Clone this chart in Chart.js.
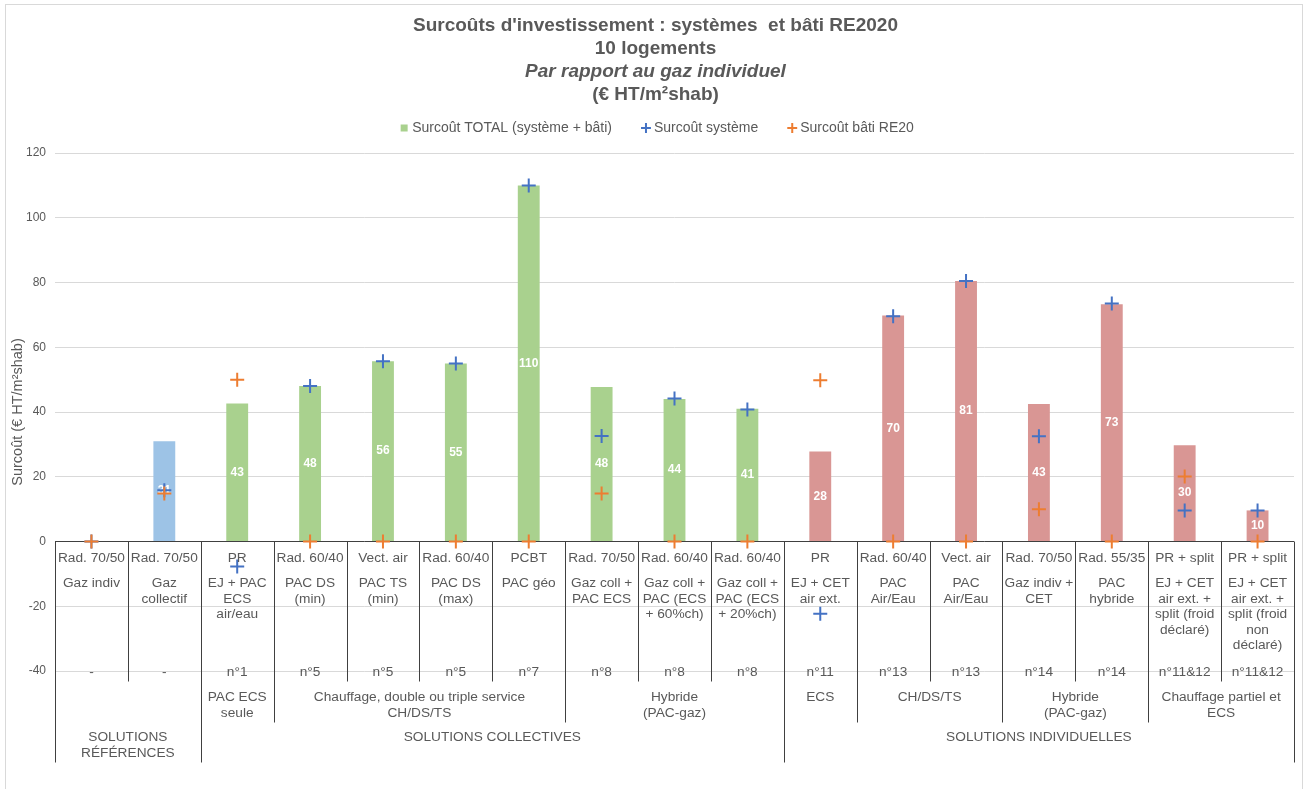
<!DOCTYPE html>
<html lang="fr">
<head>
<meta charset="utf-8">
<title>Surcoûts d'investissement : systèmes et bâti RE2020</title>
<script src="https://cdn.jsdelivr.net/npm/chart.js@4.4.1/dist/chart.umd.min.js"></script>
<style>
    html, body { margin: 0; padding: 0; background: #fff; }
    #wrap { position: relative; width: 1306px; height: 789px; }
</style>
</head>
<body>
<div id="wrap"><canvas id="surcoutChart"></canvas></div>
<script>
// Emetteur (1re ligne du tableau sous l'axe)
const emitters = ['Rad. 70/50', 'Rad. 70/50', 'PR', 'Rad. 60/40', 'Vect. air', 'Rad. 60/40', 'PCBT',
    'Rad. 70/50', 'Rad. 60/40', 'Rad. 60/40', 'PR', 'Rad. 60/40', 'Vect. air', 'Rad. 70/50',
    'Rad. 55/35', 'PR + split', 'PR + split'];

// Système (2e ligne, déjà coupée en lignes)
const systems = [
    ['Gaz indiv'], ['Gaz', 'collectif'], ['EJ + PAC', 'ECS', 'air/eau'], ['PAC DS', '(min)'],
    ['PAC TS', '(min)'], ['PAC DS', '(max)'], ['PAC géo'], ['Gaz coll +', 'PAC ECS'],
    ['Gaz coll +', 'PAC (ECS', '+ 60%ch)'], ['Gaz coll +', 'PAC (ECS', '+ 20%ch)'],
    ['EJ + CET', 'air ext.'], ['PAC', 'Air/Eau'], ['PAC', 'Air/Eau'], ['Gaz indiv +', 'CET'],
    ['PAC', 'hybride'], ['EJ + CET', 'air ext. +', 'split (froid', 'déclaré)'],
    ['EJ + CET', 'air ext. +', 'split (froid', 'non', 'déclaré)']
];

// Référence de la fiche
const references = ['-', '-', 'n°1', 'n°5', 'n°5', 'n°5', 'n°7', 'n°8', 'n°8', 'n°8', 'n°11',
    'n°13', 'n°13', 'n°14', 'n°14', 'n°11&12', 'n°11&12'];

// Valeurs (€ HT/m²shab)
const totalCost = [0, 31, 42.6, 48, 55.7, 55, 110, 47.7, 44, 41, 27.8, 69.8, 80.5, 42.5, 73.3, 29.7, 9.6];
const systemCost = [0, 15.8, -7.7, 48, 55.7, 55, 110, 32.6, 44.2, 40.8, -22.3, 69.6, 80.5, 32.5, 73.5, 9.6, 9.6];
const batiCost = [0, 14.8, 50, 0, 0, 0, 0, 14.8, 0, 0, 49.8, 0, 0, 10, 0, 20.1, 0];

// Regroupements (indices de catégories)
const serviceGroups = [
    { first: 0, last: 1, lines: [] },
    { first: 2, last: 2, lines: ['PAC ECS', 'seule'] },
    { first: 3, last: 6, lines: ['Chauffage, double ou triple service', 'CH/DS/TS'] },
    { first: 7, last: 9, lines: ['Hybride', '(PAC-gaz)'] },
    { first: 10, last: 10, lines: ['ECS'] },
    { first: 11, last: 12, lines: ['CH/DS/TS'] },
    { first: 13, last: 14, lines: ['Hybride', '(PAC-gaz)'] },
    { first: 15, last: 16, lines: ['Chauffage partiel et', 'ECS'] }
];
const solutionGroups = [
    { first: 0, last: 1, lines: ['SOLUTIONS', 'RÉFÉRENCES'] },
    { first: 2, last: 9, lines: ['SOLUTIONS COLLECTIVES'] },
    { first: 10, last: 16, lines: ['SOLUTIONS INDIVIDUELLES'] }
];

const titleLines = [
    "Surcoûts d'investissement : systèmes  et bâti RE2020",
    '10 logements',
    'Par rapport au gaz individuel',
    '(€ HT/m²shab)'
];

const textColor = '#595959';
const fontFamily = '"Liberation Sans", Arial, sans-serif';
const groupColors = ['#9dc3e6', '#a9d18e', '#d99694'];

const barColors = totalCost.map(function (v, i) {
    const g = solutionGroups.findIndex(s => i >= s.first && i <= s.last);
    return groupColors[g];
});

// fond blanc + cadre gris
const frame = {
    id: 'frame',
    beforeDraw(chart) {
        const ctx = chart.ctx;
        ctx.save();
        ctx.fillStyle = '#fff';
        ctx.fillRect(0, 0, chart.width, chart.height);
        ctx.strokeStyle = '#d9d9d9';
        ctx.lineWidth = 1;
        ctx.strokeRect(5.5, 4.5, chart.width - 9, chart.height + 10);
        ctx.restore();
    }
};

// titre sur 4 lignes (3e en italique)
const header = {
    id: 'header',
    afterDraw(chart) {
        const ctx = chart.ctx;
        const ys = [26, 48.5, 72, 95];
        ctx.save();
        ctx.fillStyle = textColor;
        ctx.textAlign = 'center';
        ctx.textBaseline = 'middle';
        titleLines.forEach(function (t, i) {
            ctx.font = (i === 2 ? 'italic ' : '') + 'bold 19px ' + fontFamily;
            ctx.fillText(t, 655.5, ys[i]);
        });
        ctx.restore();
    }
};

// un peu plus d'espace sous la légende, et légende décalée à droite
const legendGap = {
    id: 'legendGap',
    afterInit(chart) {
        const fit = chart.legend.fit;
        chart.legend.fit = function () {
            fit.call(this);
            this.height += 8;
        };
    },
    afterLayout(chart) {
        chart.legend.left += 9;
        chart.legend.right += 9;
    }
};

// valeurs blanches au milieu des barres
const barValues = {
    id: 'barValues',
    afterDatasetDraw(chart, args) {
        if (args.index !== 0) return;
        const ctx = chart.ctx;
        ctx.save();
        ctx.fillStyle = '#fff';
        ctx.font = 'bold 12px ' + fontFamily;
        ctx.textAlign = 'center';
        ctx.textBaseline = 'middle';
        args.meta.data.forEach(function (bar, i) {
            if (!totalCost[i]) return;
            ctx.fillText(Math.round(totalCost[i]), bar.x, (bar.y + bar.base) / 2);
        });
        ctx.restore();
    }
};

// tableau des catégories sous l'axe
const table = {
    id: 'table',
    afterDraw(chart) {
        const ctx = chart.ctx;
        const x = chart.scales.x;
        const y0 = chart.scales.y.getPixelForValue(0);
        const step = x.getPixelForValue(1) - x.getPixelForValue(0);
        const edge = i => x.getPixelForValue(i) - step / 2;
        const lh = 15.5;

        ctx.save();
        ctx.fillStyle = textColor;
        ctx.font = '13.7px ' + fontFamily;
        ctx.textAlign = 'center';
        ctx.textBaseline = 'middle';
        emitters.forEach(function (t, i) {
            const cx = x.getPixelForValue(i);
            ctx.fillText(t, cx, y0 + 17);
            systems[i].forEach((line, k) => ctx.fillText(line, cx, y0 + 42 + k * lh));
            ctx.fillText(references[i], cx, y0 + 131);
        });
        const drawGroups = function (groups, top) {
            groups.forEach(function (g) {
                const cx = (edge(g.first) + edge(g.last + 1)) / 2;
                g.lines.forEach((line, k) => ctx.fillText(line, cx, top + k * lh));
            });
        };
        drawGroups(serviceGroups, y0 + 156);
        drawGroups(solutionGroups, y0 + 196);

        const ends = [];
        for (let i = 0; i <= emitters.length; i++) ends[i] = y0 + 140;
        serviceGroups.forEach(g => { ends[g.first] = y0 + 181; ends[g.last + 1] = y0 + 181; });
        solutionGroups.forEach(g => { ends[g.first] = y0 + 221; ends[g.last + 1] = y0 + 221; });
        ctx.strokeStyle = '#404040';
        ctx.lineWidth = 1;
        ends.forEach(function (end, i) {
            const px = Math.round(edge(i)) + 0.5;
            ctx.beginPath();
            ctx.moveTo(px, y0);
            ctx.lineTo(px, end);
            ctx.stroke();
        });
        ctx.restore();
    }
};

const markerStyle = {
    type: 'line',
    showLine: false,
    pointStyle: 'cross',
    pointRadius: 7,
    pointHoverRadius: 7,
    pointBorderWidth: 2,
    pointHoverBorderWidth: 2
};

new Chart(document.getElementById('surcoutChart'), {
    type: 'bar',
    data: {
        labels: systems.map(s => s.join(' ')),
        datasets: [{
            type: 'bar',
            label: 'Surcoût TOTAL (système + bâti)',
            data: totalCost,
            backgroundColor: barColors,
            borderWidth: 0,
            barPercentage: 0.3,
            categoryPercentage: 1,
            order: 2
        }, Object.assign({}, markerStyle, {
            label: 'Surcoût système',
            data: systemCost,
            borderColor: '#4472c4',
            backgroundColor: '#4472c4',
            order: 1
        }), Object.assign({}, markerStyle, {
            label: 'Surcoût bâti RE20',
            data: batiCost,
            borderColor: '#ed7d31',
            backgroundColor: '#ed7d31',
            order: 0
        })]
    },
    options: {
        responsive: true,
        maintainAspectRatio: false,
        animation: false,
        layout: {
            padding: { top: 88, left: 5, right: 12, bottom: 118 }
        },
        scales: {
            x: { display: false },
            y: {
                min: -40,
                max: 120,
                ticks: { stepSize: 20, color: textColor, font: { size: 12, family: fontFamily }, padding: 9 },
                border: { display: false },
                grid: {
                    drawTicks: false,
                    color: c => c.tick && c.tick.value === 0 ? '#404040' : '#d9d9d9'
                },
                title: {
                    display: true,
                    text: 'Surcoût (€ HT/m²shab)',
                    color: textColor,
                    font: { size: 14.5, family: fontFamily }
                },
                afterFit(axis) { axis.width = 50; }
            }
        },
        plugins: {
            legend: {
                position: 'top',
                labels: {
                    usePointStyle: true,
                    boxWidth: 2,
                    boxHeight: 7,
                    padding: 33,
                    color: textColor,
                    font: { size: 14, family: fontFamily },
                    generateLabels(chart) {
                        return chart.data.datasets.map(function (ds, i) {
                            const c = i === 0 ? groupColors[1] : ds.borderColor;
                            return {
                                text: ds.label,
                                fillStyle: c,
                                strokeStyle: c,
                                lineWidth: i === 0 ? 0 : 2,
                                pointStyle: i === 0 ? 'rect' : 'cross',
                                fontColor: textColor,
                                hidden: false,
                                datasetIndex: i
                            };
                        });
                    }
                }
            },
            tooltip: { enabled: false }
        }
    },
    plugins: [frame, header, legendGap, barValues, table]
});
</script>
</body>
</html>
